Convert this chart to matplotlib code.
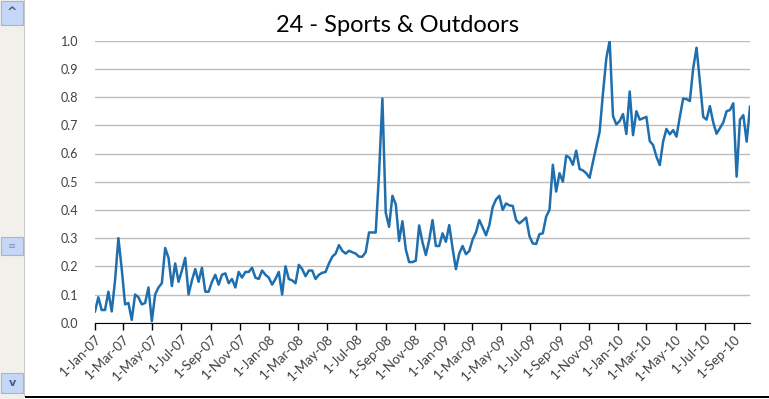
import matplotlib
matplotlib.use("Agg")
import matplotlib.pyplot as plt
import matplotlib.dates as mdates
from matplotlib.patches import Rectangle
import pandas as pd

# weekly index values (starts 1-Jan-07)
values = [
    0.04, 0.09, 0.045, 0.045, 0.11, 0.04, 0.15, 0.30, 0.19, 0.065,
    0.07, 0.01, 0.10, 0.09, 0.065, 0.07, 0.125, 0.005, 0.10, 0.125,
    0.14, 0.265, 0.23, 0.13, 0.21, 0.145, 0.185, 0.23, 0.10, 0.15,
    0.19, 0.145, 0.195, 0.11, 0.11, 0.145, 0.17, 0.135, 0.17, 0.175,
    0.14, 0.155, 0.125, 0.18, 0.16, 0.18, 0.18, 0.195, 0.16, 0.155,
    0.185, 0.17, 0.16, 0.135, 0.155, 0.18, 0.10, 0.20, 0.155, 0.15,
    0.14, 0.205, 0.19, 0.165, 0.185, 0.185, 0.155, 0.17, 0.177, 0.18,
    0.21, 0.234, 0.245, 0.275, 0.255, 0.245, 0.255, 0.25, 0.245, 0.234,
    0.234, 0.25, 0.32, 0.32, 0.32, 0.53, 0.795, 0.39, 0.34, 0.45,
    0.42, 0.29, 0.36, 0.26, 0.215, 0.215, 0.22, 0.345, 0.285, 0.24,
    0.293, 0.364, 0.272, 0.272, 0.317, 0.287, 0.346, 0.264, 0.19, 0.246,
    0.272, 0.243, 0.254, 0.295, 0.32, 0.364, 0.338, 0.31, 0.346, 0.41,
    0.437, 0.45, 0.40, 0.423, 0.416, 0.414, 0.364, 0.352, 0.362, 0.373,
    0.307, 0.281, 0.279, 0.314, 0.317, 0.376, 0.40, 0.56, 0.465, 0.53,
    0.50, 0.592, 0.585, 0.56, 0.61, 0.545, 0.54, 0.53, 0.514, 0.57,
    0.624, 0.677, 0.813, 0.937, 1.0, 0.733, 0.703, 0.715, 0.74, 0.669,
    0.82, 0.665, 0.75, 0.72, 0.725, 0.73, 0.644, 0.63, 0.589, 0.559,
    0.642, 0.687, 0.668, 0.683, 0.66, 0.73, 0.795, 0.793, 0.786, 0.902,
    0.975, 0.855, 0.73, 0.72, 0.768, 0.71, 0.67, 0.69, 0.71, 0.75,
    0.754, 0.778, 0.518, 0.72, 0.736, 0.642, 0.766,
]
dates = pd.date_range("2007-01-01", periods=len(values), freq="7D")
title = "24 - Sports & Outdoors"
tick_dates = pd.date_range("2007-01-01", "2010-09-01", freq="2MS")
y_ticks = [0.0, 0.1, 0.2, 0.3, 0.4, 0.5, 0.6, 0.7, 0.8, 0.9, 1.0]

W, H = 769, 399
fig = plt.figure(figsize=(W / 100, H / 100), dpi=100)
ax = fig.add_axes([95 / W, 1 - 322.7 / H, 655 / W, 282 / H])

ax.plot(dates, values, color="#1f6fae", lw=1.8)

ax.set_xlim(dates[0], dates[-1])
ax.set_ylim(0, 1.0)
ax.set_yticks(y_ticks)
ax.set_yticklabels([f"{v:.1f}" for v in y_ticks])
ax.set_xticks(tick_dates)
ax.set_xticklabels([f"{d.day}-{d:%b-%y}" for d in tick_dates],
                   rotation=45, ha="right", va="top", rotation_mode="anchor")

ax.grid(axis="y", color="#bdbdbd", lw=1)
ax.set_axisbelow(True)
for s in ["left", "right", "top"]:
    ax.spines[s].set_visible(False)
ax.spines["bottom"].set_color("black")
ax.tick_params(axis="y", length=0, pad=12, labelsize=9, labelcolor="#404040")
ax.tick_params(axis="x", length=5, width=1, color="black", pad=2,
               labelsize=9.5, labelcolor="#404040")
for lbl in ax.get_xticklabels() + ax.get_yticklabels():
    lbl.set_family("Lato")

fig.text(397 / W, 1 - 25 / H, title, ha="center", va="center",
         fontsize=17, family="Lato", color="black")


# the Excel scrollbar on the left of the screenshot
def px(x, y, w, h, **kw):
    fig.add_artist(Rectangle((x / W, 1 - (y + h) / H), w / W, h / H,
                             transform=fig.transFigure, **kw))


px(0, 0, 24, 399, color="#f1f0ea", lw=0)
px(24, 0, 1, 397, color="#c8c8c8", lw=0)
px(1, 1, 22, 24, facecolor="#c6d6f6", edgecolor="#9fb4e0", lw=0.8)
px(1, 237, 22, 18, facecolor="#c6d6f6", edgecolor="#9fb4e0", lw=0.8)
px(1, 373, 22, 20, facecolor="#c6d6f6", edgecolor="#9fb4e0", lw=0.8)
px(25, 396, W - 25, 2, color="black", lw=0)
fig.text(12 / W, 1 - 13 / H, "^", ha="center", va="center", fontsize=9,
         color="#4a5a80", fontweight="bold")
fig.text(12 / W, 1 - 383 / H, "v", ha="center", va="center", fontsize=8,
         color="#4a5a80", fontweight="bold")
fig.text(12 / W, 1 - 246 / H, "\u2261", ha="center", va="center", fontsize=7,
         color="#7f95c8")

fig.savefig("out.png", dpi=100)
